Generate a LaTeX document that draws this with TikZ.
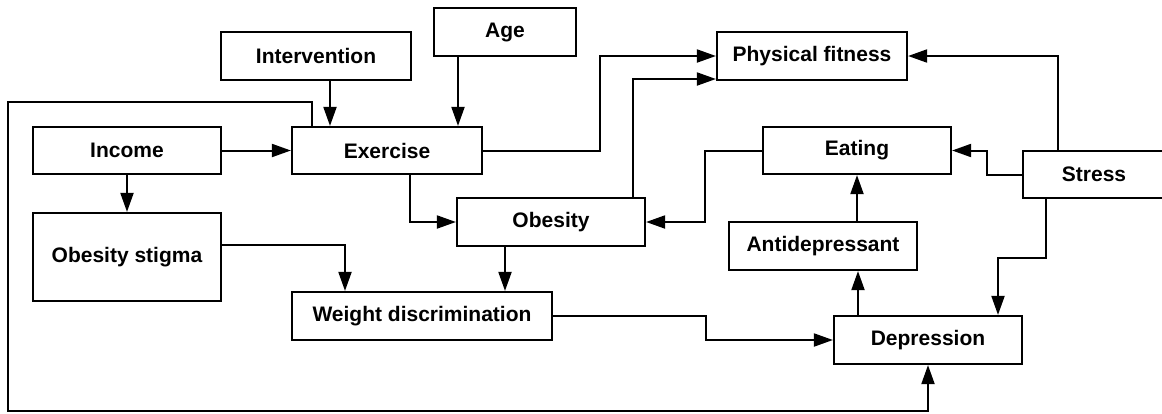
\documentclass[tikz,border=0pt]{standalone}
\usepackage{fontspec}
\setmainfont{Liberation Sans}
\usepackage{tikz}
\usetikzlibrary{positioning, calc, arrows.meta}

\begin{document}
\begin{tikzpicture}[x=1pt, y=-1pt, ->, >={Triangle[length=19pt,width=13pt]},
     line width=2pt,
     box/.style={draw, rectangle, line width=2.2pt, inner sep=0pt, align=center,
       minimum width=188pt, minimum height=48pt,
       font=\fontsize{21}{25}\selectfont\bfseries}]

  \useasboundingbox (0,0) rectangle (1162,413);

  \node[box, minimum width=190pt] (intervention) at (316,56) {Intervention};
  \node[box, minimum width=142pt] (age) at (505,32) {Age};
  \node[box, minimum width=190pt] (fitness) at (812,56) {Physical fitness};
  \node[box, minimum height=47pt] (income) at (127,150.5) {Income};
  \node[box, minimum width=190pt, minimum height=47pt] (exercise) at (387,150.5) {Exercise};
  \node[box, minimum width=188pt, minimum height=47pt] (eating) at (857,150.5) {Eating};
  \node[box, minimum width=142pt, minimum height=47pt] (stress) at (1094,174.5) {Stress};
  \node[box] (obesity) at (551,222) {Obesity};
  \node[box, minimum height=88pt] (stigma) at (127,257) {Obesity stigma};
  \node[box] (antidep) at (823,246) {Antidepressant};
  \node[box, minimum width=260pt] (weightdisc) at (422,316) {Weight discrimination};
  \node[box] (depression) at (928,340) {Depression};

  \coordinate (i1) at ([xshift=14pt]intervention.south);
  \coordinate (a1) at ([xshift=-47pt]age.south);
  \coordinate (o1) at ([xshift=82pt]obesity.north);
  \coordinate (o2) at ([xshift=-46pt]obesity.south);
  \coordinate (dep1) at ([xshift=-70pt]depression.north);
  \coordinate (loopcorner) at (8,411);

  \draw (i1) -- (i1 |- exercise.north);
  \draw (a1) -- (a1 |- exercise.north);
  \draw (income.east) -- (exercise.west);
  \draw (income.south) -- (stigma.north);
  \draw (exercise.east) -- ++(117,0) |- (fitness.west);
  \draw (o1) |- ([yshift=-23pt]fitness.west);
  \draw ([xshift=-36pt]stress.north) |- (fitness.east);
  \draw (stress.west) -- ++(-35,0) |- (eating.east);
  \draw (eating.west) -- ++(-57,0) |- (obesity.east);
  \draw ([xshift=23pt]exercise.south) |- (obesity.west);
  \draw (eating.south |- antidep.north) -- (eating.south);
  \draw (dep1) -- (dep1 |- antidep.south);
  \draw ([xshift=-48pt]stress.south) -- ++(0,58.5) -| ([xshift=70pt]depression.north);
  \draw ([yshift=12pt]stigma.east) -| ([xshift=-77pt]weightdisc.north);
  \draw (o2) -- (o2 |- weightdisc.north);
  \draw (weightdisc.east) -- ++(153,0) |- (depression.west);
  \draw ([xshift=-75pt]exercise.north) -- ++(0,-24) -| (loopcorner) -| (depression.south);
\end{tikzpicture}
\end{document}
